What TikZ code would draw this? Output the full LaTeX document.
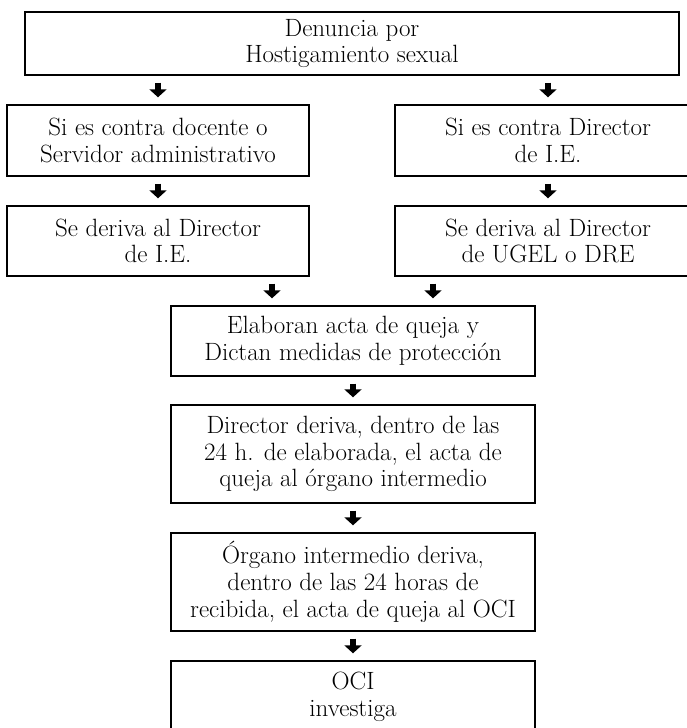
\documentclass[tikz,border=0pt]{standalone}
\usepackage{fontspec}
\usepackage{tikz}
\usetikzlibrary{arrows.meta}

\begin{document}
\begin{tikzpicture}[x=1pt,y=-1pt,
  caja/.style={draw,line width=1.4pt,align=center,inner sep=0pt,fill=white,
    font=\fontsize{25}{26.7}\selectfont},
  flecha/.style={line width=6.5pt,-{Triangle[width=17pt,length=8pt]},
    shorten <=7pt,shorten >=7pt}]

\useasboundingbox (0,0) rectangle (687,728);

\node [caja,minimum width=654pt,minimum height=63pt] (v1) at (352,43.5) {Denuncia por\\Hostigamiento sexual};
\node [caja,minimum width=302pt,minimum height=71pt] (v2) at (158,140.5) {Si es contra docente o\\Servidor administrativo};
\node [caja,minimum width=306pt,minimum height=71pt] (v3) at (548,140.5) {Si es contra Director\\de I.E.};
\node [caja,minimum width=302pt,minimum height=70pt] (v4) at (158,241) {Se deriva al Director\\de I.E.};
\node [caja,minimum width=306pt,minimum height=70pt] (v5) at (548,241) {Se deriva al Director\\de UGEL o DRE};
\node [caja,minimum width=364pt,minimum height=70pt] (v6) at (353,341) {Elaboran acta de queja y\\Dictan medidas de protección};
\node [caja,minimum width=364pt,minimum height=98pt] (v7) at (353,454) {Director deriva, dentro de las\\24 h. de elaborada, el acta de\\queja al órgano intermedio};
\node [caja,minimum width=364pt,minimum height=98pt] (v8) at (353,582) {Órgano intermedio deriva,\\dentro de las 24 horas de\\recibida, el acta de queja al OCI};
\node [caja,minimum width=364pt,minimum height=72pt] (v9) at (353,697) {OCI\\investiga};

\coordinate (c1) at ([xshift=-81pt]v6.north);
\coordinate (c2) at ([xshift=80pt]v6.north);

\draw[flecha] (v2.north |- v1.south) -- (v2);
\draw[flecha] (v3.north |- v1.south) -- (v3);
\draw[flecha] (v2) -- (v4);
\draw[flecha] (v3) -- (v5);
\draw[flecha] (c1 |- v4.south) -- (c1);
\draw[flecha] (c2 |- v5.south) -- (c2);

\foreach \a/\b in {v6/v7,v7/v8,v8/v9}
    \draw[flecha] (\a) -- (\b);

\end{tikzpicture}
\end{document}
